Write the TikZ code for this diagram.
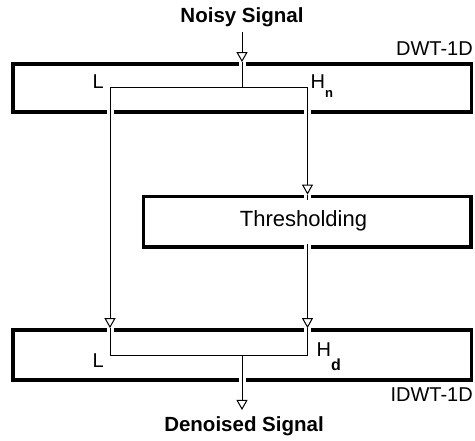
\documentclass[tikz,border=0pt]{standalone}
\usepackage{fontspec}
\setmainfont{Liberation Sans}
\usetikzlibrary{arrows.meta}
\begin{document}
\begin{tikzpicture}[x=1pt,y=-1pt,
  blk/.style={draw, line width=3.8pt, rectangle, inner sep=0pt},
  wire/.style={line width=1pt},
  arr/.style={wire, -{Triangle[open, length=10pt, width=11pt]}},
  gap/.style={draw=white, line width=7pt},
  lab/.style={font=\fontsize{20}{24}\selectfont, inner sep=0pt},
  sig/.style={font=\fontsize{20.5}{24}\selectfont\bfseries, inner sep=0pt},
]
\useasboundingbox (0,0) rectangle (475,441);
% blocks
\node[blk, minimum width=458.5pt, minimum height=48pt] (dwt) at (242.25,88) {};
\node[blk, minimum width=458.5pt, minimum height=50pt] (idwt) at (242.25,355) {};
\node[blk, minimum width=327.5pt, minimum height=50.5pt] (thr) at (307.25,221.75) {};
% texts
\node[sig, anchor=base] (noisy) at (242,23) {Noisy Signal};
\node[sig, anchor=base] (denoised) at (244,432) {Denoised Signal};
\node[lab, font=\fontsize{22}{26}\selectfont, anchor=base] (thrtxt) at (303.5,227) {Thresholding};
\node[lab, anchor=base east] (dwtlab) at (473,56) {DWT-1D};
\node[lab, anchor=base east] (idwtlab) at (473,402) {IDWT-1D};
\node[lab, anchor=base west] (l1) at (92.5,89) {L};
\node[lab, anchor=base west] (h1) at (310.5,89) {H\raisebox{-9pt}{\fontsize{13}{15}\selectfont\bfseries n}};
\node[lab, anchor=base west] (l2) at (92.5,368) {L};
\node[lab, anchor=base west] (h2) at (316.5,357) {H\raisebox{-14pt}{\fontsize{16}{18}\selectfont\bfseries d}};
% wire coordinates
\coordinate (in1) at (242,32);
\coordinate (jt) at (242,87.5);
\coordinate (lt) at (110,87.5);
\coordinate (rt) at (307.5,87.5);
\coordinate (jb) at (242,356);
\coordinate (lb) at (110,356);
\coordinate (rb) at (307.5,356);
\coordinate (out1) at (242,410);
% gaps in borders
\draw[gap] (in1 |- dwt.north) -- ++(0,5);
\draw[gap] (lt |- dwt.south) -- ++(0,-5);
\draw[gap] (rt |- dwt.south) -- ++(0,-5);
\draw[gap] (rt |- thr.north) -- ++(0,5);
\draw[gap] (rt |- thr.south) -- ++(0,-5);
\draw[gap] (lt |- idwt.north) -- ++(0,5);
\draw[gap] (rt |- idwt.north) -- ++(0,5);
\draw[gap] (jb |- idwt.south) -- ++(0,-5);
% wires
\draw[arr] (in1) -- (in1 |- dwt.north);
\draw[wire] (in1 |- dwt.north) -- (jt);
\draw[wire] (lt) -- (rt);
\draw[arr] (lt) -- (lt |- idwt.north);
\draw[arr] (rt) -- (rt |- thr.north);
\draw[wire] (rt |- thr.north) -- ++(0,5);
\draw[arr] ([yshift=5pt]rt |- thr.south) -- (rt |- idwt.north);
\draw[wire] (lt |- idwt.north) -- (lb) -- (rb) -- (rt |- idwt.north);
\draw[arr] (jb) -- (out1);
\end{tikzpicture}
\end{document}
